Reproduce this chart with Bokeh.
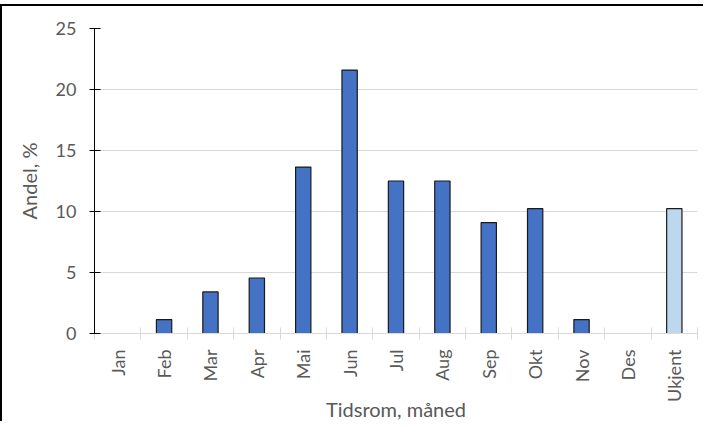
from bokeh.plotting import figure
from bokeh.models import FixedTicker, ColumnDataSource, Range1d
from bokeh.embed import file_html
from bokeh.resources import INLINE

categories = ["Jan", "Feb", "Mar", "Apr", "Mai", "Jun", "Jul", "Aug", "Sep", "Okt", "Nov", "Des", "Ukjent"]
values = [0, 1.14, 3.41, 4.55, 13.64, 21.59, 12.5, 12.5, 9.09, 10.23, 1.14, 0, 10.23]
colors = ["#4472C4"] * 12 + ["#BDD7EE"]
y_ticks = [0, 5, 10, 15, 20, 25]

positions = list(range(1, len(categories) + 1))
src = ColumnDataSource(dict(x=positions, top=values, color=colors))

FONT = "Lato"
TXT = "#595959"

p = figure(width=703, height=417, output_backend="svg", toolbar_location=None,
           x_range=Range1d(0.5, len(categories) + 0.5), y_range=Range1d(0, 25),
           min_border_left=92, min_border_right=8, min_border_top=22, min_border_bottom=90,
           styles={"border-left": "2px solid black", "border-top": "2px solid black",
                   "margin-top": "4px"})
p.outline_line_color = None

p.vbar(x="x", top="top", width=0.33, fill_color="color", line_color="#1a1a1a",
       line_width=1.2, source=src)

# x axis
p.xaxis.ticker = FixedTicker(ticks=positions, minor_ticks=[i + 0.5 for i in range(0, len(categories) + 1)])
p.xaxis.major_label_overrides = {i: c for i, c in zip(positions, categories)}
p.xaxis.major_label_orientation = 1.5708
p.xaxis.major_tick_line_color = None
p.xaxis.major_tick_in = 0
p.xaxis.major_tick_out = 0
p.xaxis.minor_tick_line_color = "#d9d9d9"
p.xaxis.minor_tick_in = 6
p.xaxis.minor_tick_out = 6
p.xaxis.axis_line_color = "#d9d9d9"
p.xaxis.major_label_standoff = 10
p.xaxis.axis_label = "Tidsrom, måned"
p.xaxis.axis_label_standoff = -8

# y axis
p.yaxis.ticker = FixedTicker(ticks=y_ticks)
p.yaxis.minor_tick_line_color = None
p.yaxis.major_tick_in = 6
p.yaxis.major_tick_out = 5
p.yaxis.major_tick_line_color = "black"
p.yaxis.axis_line_color = "black"
p.yaxis.major_label_standoff = 13
p.yaxis.axis_label = "Andel, %"
p.yaxis.axis_label_standoff = 12

for ax in (p.xaxis, p.yaxis):
    ax.major_label_text_font = FONT
    ax.major_label_text_font_size = "18px"
    ax.major_label_text_color = TXT
    ax.axis_label_text_font = FONT
    ax.axis_label_text_font_size = "20px"
    ax.axis_label_text_font_style = "normal"
    ax.axis_label_text_color = TXT

p.xgrid.grid_line_color = None
p.ygrid.ticker = FixedTicker(ticks=y_ticks)
p.ygrid.grid_line_color = "#d9d9d9"
p.ygrid.grid_line_width = 1

p.background_fill_color = "white"
p.border_fill_color = "white"

open("out.html", "w").write(file_html(p, INLINE))
